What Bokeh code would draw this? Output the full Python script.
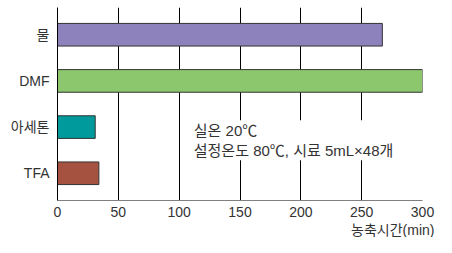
from bokeh.plotting import figure
from bokeh.models import FactorRange, Range1d, FixedTicker, BoxAnnotation, Label, Title
from bokeh.embed import file_html
from bokeh.resources import INLINE

categories = ["TFA", "아세톤", "DMF", "물"]
values = [34, 31, 300, 267]
colors = ["#A65241", "#009A9C", "#8CC76D", "#8E82BC"]
x_ticks = [0, 50, 100, 150, 200, 250, 300]
note_lines = ["실온 20℃", "설정온도 80℃, 시료 5mL×48개"]
x_title = "농축시간(min)"

FONT = "'Liberation Sans', 'Noto Sans CJK KR'"

p = figure(width=436, height=237, output_backend="svg", toolbar_location=None,
           y_range=FactorRange(factors=categories, range_padding=0.09, range_padding_units="absolute"),
           x_range=Range1d(0, 300),
           min_border_left=57, min_border_right=14, min_border_top=7, min_border_bottom=0)
p.outline_line_color = None

p.hbar(y=categories, right=values, left=0, height=0.49, fill_color=colors,
       line_color="#333333", line_width=1)

# grid
p.ygrid.grid_line_color = None
p.xgrid.grid_line_color = "black"
p.xgrid.grid_line_width = 1
p.xgrid.ticker = FixedTicker(ticks=x_ticks)

# x axis
p.xaxis.ticker = FixedTicker(ticks=x_ticks)
p.xaxis.major_tick_line_color = None
p.xaxis.minor_tick_line_color = None
p.xaxis.major_tick_out = 0
p.xaxis.major_tick_in = 0
p.xaxis.minor_tick_out = 0
p.xaxis.axis_line_color = "#808080"
p.xaxis.major_label_standoff = 6
p.xaxis.major_label_text_font = FONT
p.xaxis.major_label_text_font_size = "14px"
p.xaxis.major_label_text_color = "#333333"

# y axis
p.yaxis.major_tick_line_color = None
p.yaxis.minor_tick_line_color = None
p.yaxis.major_tick_out = 0
p.yaxis.major_tick_in = 0
p.yaxis.minor_tick_out = 0
p.yaxis.axis_line_color = "black"
p.yaxis.major_label_standoff = 8
p.yaxis.major_label_text_font = FONT
p.yaxis.major_label_text_font_size = "14px"
p.yaxis.major_label_text_color = "#333333"

# note box
p.add_layout(BoxAnnotation(left=105, right=288, bottom=0.78, top=1.65,
                           fill_color="white", fill_alpha=1, line_color=None))
p.add_layout(Label(x=112, y=1.43, text=note_lines[0], text_font=FONT, text_font_size="15px",
                   text_color="#333333", text_baseline="middle"))
p.add_layout(Label(x=112, y=1.0, text=note_lines[1], text_font=FONT, text_font_size="15px",
                   text_color="#333333", text_baseline="middle"))

p.add_layout(Title(text=x_title, align="right", text_font=FONT, text_font_size="14px",
                   text_font_style="normal", text_color="#333333", offset=-12, standoff=0), "below")

open("out.html", "w").write(file_html(p, INLINE))
